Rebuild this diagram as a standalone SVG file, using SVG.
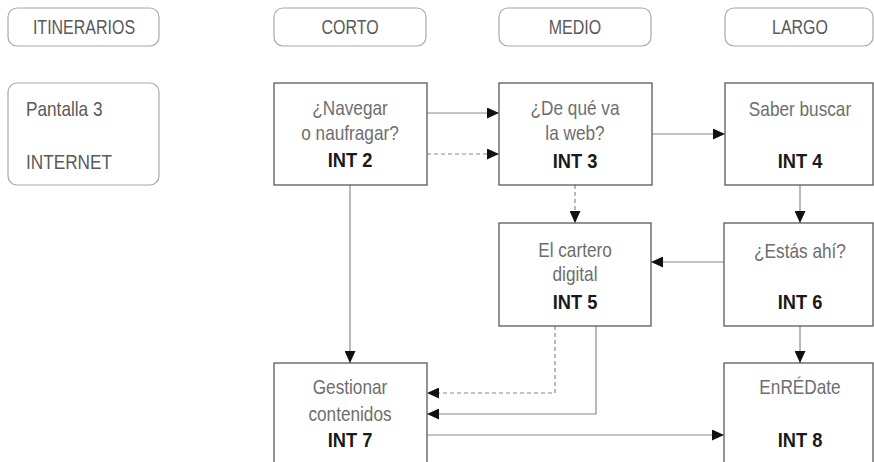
<svg xmlns="http://www.w3.org/2000/svg" width="874" height="462" viewBox="0 0 874 462">
  <style>
    .hdr { fill: #ffffff; stroke: #a8a8a8; stroke-width: 1.2; }
    .box { fill: #ffffff; stroke: #5a5a5a; stroke-width: 1.3; }
    text { font-family: "Liberation Sans", Arial, sans-serif; }
    .t { font-size: 21px; fill: #6e6e6e; text-anchor: middle; }
    .th { font-size: 19.5px; fill: #5a5a5a; text-anchor: middle; }
    .tl { font-size: 21px; fill: #5a5a5a; }
    .b { font-size: 21px; font-weight: bold; fill: #1a1a1a; text-anchor: middle; }
    .ln { fill: none; stroke: #8a8a8a; stroke-width: 1.2; marker-end: url(#arr); }
    .dash { stroke-dasharray: 4 3; }
  </style>
  <defs>
    <marker id="arr" markerUnits="userSpaceOnUse" markerWidth="12" markerHeight="11" refX="12" refY="5.5" orient="auto">
      <path d="M0,0 L12,5.5 L0,11 Z" fill="#111111"/>
    </marker>
  </defs>

  <!-- column headers (text set in a condensed width via horizontal scaling) -->
  <g id="hdr-itinerarios">
    <rect class="hdr" x="8" y="8" width="151" height="38" rx="9"/>
    <text class="th" transform="matrix(0.82 0 0 1 84 34)">ITINERARIOS</text>
  </g>
  <g id="hdr-corto">
    <rect class="hdr" x="274" y="8" width="152" height="38" rx="9"/>
    <text class="th" transform="matrix(0.82 0 0 1 350 34)">CORTO</text>
  </g>
  <g id="hdr-medio">
    <rect class="hdr" x="499" y="8" width="152" height="38" rx="9"/>
    <text class="th" transform="matrix(0.82 0 0 1 575 34)">MEDIO</text>
  </g>
  <g id="hdr-largo">
    <rect class="hdr" x="725" y="8" width="148" height="38" rx="9"/>
    <text class="th" transform="matrix(0.82 0 0 1 800 34)">LARGO</text>
  </g>

  <!-- screen label -->
  <g id="pantalla">
    <rect class="hdr" x="8" y="83" width="151" height="102" rx="9"/>
    <text class="tl" transform="matrix(0.82 0 0 1 26 116)">Pantalla 3</text>
    <text class="tl" transform="matrix(0.82 0 0 1 26 169)">INTERNET</text>
  </g>

  <!-- connectors -->
  <g id="connectors">
    <path class="ln" d="M427,113 H499"/>
    <path class="ln dash" d="M427,154 H499"/>
    <path class="ln" d="M652,134 H725"/>
    <path class="ln dash" d="M575,185 V223"/>
    <path class="ln" d="M800,185 V223"/>
    <path class="ln" d="M724,262 H651"/>
    <path class="ln" d="M800,326 V363"/>
    <path class="ln" d="M350,185 V363"/>
    <path class="ln dash" d="M555,326 V393 H427"/>
    <path class="ln" d="M596,326 V414 H427"/>
    <path class="ln" d="M427,435 H724"/>
  </g>

  <!-- activity nodes -->
  <g id="int2">
    <rect class="box" x="274" y="83" width="153" height="102"/>
    <text class="t" transform="matrix(0.82 0 0 1 350 115)">¿Navegar</text>
    <text class="t" transform="matrix(0.82 0 0 1 350 140)">o naufragar?</text>
    <text class="b" transform="matrix(0.87 0 0 1 350 167)">INT 2</text>
  </g>
  <g id="int3">
    <rect class="box" x="499" y="83" width="153" height="102"/>
    <text class="t" transform="matrix(0.82 0 0 1 575 115)">¿De qué va</text>
    <text class="t" transform="matrix(0.82 0 0 1 575 140)">la web?</text>
    <text class="b" transform="matrix(0.87 0 0 1 575 168)">INT 3</text>
  </g>
  <g id="int4">
    <rect class="box" x="725" y="83" width="148" height="102"/>
    <text class="t" transform="matrix(0.82 0 0 1 800 116)">Saber buscar</text>
    <text class="b" transform="matrix(0.87 0 0 1 800 168)">INT 4</text>
  </g>
  <g id="int5">
    <rect class="box" x="499" y="223" width="152" height="103"/>
    <text class="t" transform="matrix(0.82 0 0 1 575 257)">El cartero</text>
    <text class="t" transform="matrix(0.82 0 0 1 575 281)">digital</text>
    <text class="b" transform="matrix(0.87 0 0 1 575 309)">INT 5</text>
  </g>
  <g id="int6">
    <rect class="box" x="724" y="223" width="149" height="103"/>
    <text class="t" transform="matrix(0.82 0 0 1 800 258)">¿Estás ahí?</text>
    <text class="b" transform="matrix(0.87 0 0 1 800 309)">INT 6</text>
  </g>
  <g id="int7">
    <rect class="box" x="274" y="363" width="153" height="110"/>
    <text class="t" transform="matrix(0.82 0 0 1 350 394)">Gestionar</text>
    <text class="t" transform="matrix(0.82 0 0 1 350 421)">contenidos</text>
    <text class="b" transform="matrix(0.87 0 0 1 350 447)">INT 7</text>
  </g>
  <g id="int8">
    <rect class="box" x="724" y="363" width="149" height="110"/>
    <text class="t" transform="matrix(0.82 0 0 1 800 394)">EnRÉDate</text>
    <text class="b" transform="matrix(0.87 0 0 1 800 447)">INT 8</text>
  </g>
</svg>
